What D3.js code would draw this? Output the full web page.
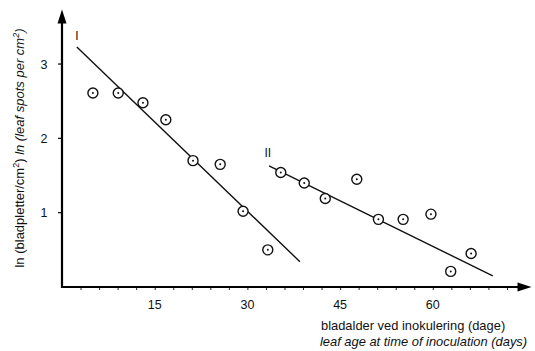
<!DOCTYPE html>
<html>
<head>
<meta charset="utf-8">
<script src="https://cdn.jsdelivr.net/npm/d3@7"></script>
<style>
  body { margin: 0; background: #fff; }
  svg { display: block; font-family: "Liberation Sans", Arial, sans-serif; }
</style>
</head>
<body>
<div id="chart"></div>
<script>
// leaf age at inoculation (days) and ln(leaf spots per cm2)
const ageI = [5.0, 9.1, 13.1, 16.8, 21.2, 25.6, 29.3, 33.3];
const lnI = [2.61, 2.61, 2.48, 2.25, 1.70, 1.65, 1.02, 0.50];
const ageII = [35.4, 39.2, 42.6, 47.7, 51.2, 55.2, 59.7, 62.9, 66.2];
const lnII = [1.54, 1.40, 1.19, 1.45, 0.91, 0.91, 0.98, 0.21, 0.45];

// fitted regression lines (end points)
const fitI = [[2.4, 3.23], [38.5, 0.34]];
const fitII = [[33.5, 1.63], [69.7, 0.15]];

const xTicks = [15, 30, 45, 60];
const yTicks = [1, 2, 3];

const width = 535, height = 351;

const svg = d3.select('#chart').append('svg')
    .attr('width', width)
    .attr('height', height);

const x = d3.scaleLinear().domain([0, 75]).range([62, 525.5]);
const y = d3.scaleLinear().domain([0, 3.7]).range([287, 12]);

// axes
const xAxis = d3.axisBottom(x).tickValues(d3.range(3, 75, 3)).tickSize(3).tickFormat('');
svg.append('g')
    .attr('transform', 'translate(0,' + y(0) + ')')
    .call(xAxis)
    .call(g => g.select('.domain').remove())
    .call(g => g.selectAll('line').attr('stroke', '#222').attr('stroke-width', 1));

svg.append('g')
    .selectAll('text')
    .data(xTicks)
    .join('text')
    .attr('x', d => x(d))
    .attr('y', y(0) + 22)
    .attr('text-anchor', 'middle')
    .attr('font-size', 12.5)
    .attr('fill', '#111')
    .text(d => d);

svg.append('line')
    .attr('x1', x(0)).attr('x2', x(75))
    .attr('y1', y(0)).attr('y2', y(0))
    .attr('stroke', '#000').attr('stroke-width', 2.2);
svg.append('path')
    .attr('d', `M${x(75) + 6},${y(0)} L${x(75) - 8},${y(0) - 4.5} L${x(75) - 8},${y(0) + 4.5} Z`)
    .attr('fill', '#000');

svg.append('line')
    .attr('x1', x(0)).attr('x2', x(0))
    .attr('y1', y(0) + 1).attr('y2', y(3.6))
    .attr('stroke', '#000').attr('stroke-width', 2.2);
svg.append('path')
    .attr('d', `M${x(0)},${y(3.6) - 10} L${x(0) - 4.5},${y(3.6) + 4} L${x(0) + 4.5},${y(3.6) + 4} Z`)
    .attr('fill', '#000');

svg.append('g')
    .selectAll('line')
    .data(yTicks)
    .join('line')
    .attr('x1', x(0) - 4).attr('x2', x(0))
    .attr('y1', d => y(d)).attr('y2', d => y(d))
    .attr('stroke', '#000').attr('stroke-width', 1.2);

svg.append('g')
    .selectAll('text')
    .data(yTicks)
    .join('text')
    .attr('x', x(0) - 18)
    .attr('y', d => y(d) + 4.5)
    .attr('text-anchor', 'middle')
    .attr('font-size', 12.5)
    .attr('fill', '#111')
    .text(d => d);

// axis titles
const yTitle = svg.append('text')
    .attr('transform', 'translate(24,148) rotate(-90)')
    .attr('text-anchor', 'middle')
    .attr('font-size', 13)
    .attr('fill', '#111');
yTitle.append('tspan').text('ln (bladpletter/cm');
yTitle.append('tspan').attr('font-size', 9).attr('dy', -5).text('2');
yTitle.append('tspan').attr('dy', 5).text(') ');
yTitle.append('tspan').attr('font-style', 'italic').text('ln (leaf spots per cm');
yTitle.append('tspan').attr('font-style', 'italic').attr('font-size', 9).attr('dy', -5).text('2');
yTitle.append('tspan').attr('font-style', 'italic').attr('dy', 5).text(')');

svg.append('text')
    .attr('x', 321).attr('y', 330)
    .attr('font-size', 12.9)
    .attr('fill', '#111')
    .text('bladalder ved inokulering (dage)');
svg.append('text')
    .attr('x', 320).attr('y', 346)
    .attr('font-size', 12.9)
    .attr('font-style', 'italic')
    .attr('fill', '#111')
    .text('leaf age at time of inoculation (days)');

// regression lines
const line = d3.line().x(d => x(d[0])).y(d => y(d[1]));
[fitI, fitII].forEach(f => {
    svg.append('path')
        .attr('d', line(f))
        .attr('fill', 'none')
        .attr('stroke', '#111')
        .attr('stroke-width', 1.4);
});

svg.append('text').attr('x', x(2.4)).attr('y', y(3.32)).attr('font-size', 12)
    .attr('fill', '#111').attr('text-anchor', 'middle').text('I');
svg.append('text').attr('x', x(33.3)).attr('y', y(1.75)).attr('font-size', 12)
    .attr('fill', '#111').attr('text-anchor', 'middle').text('II');

// points
const pts = ageI.map((a, i) => [a, lnI[i]]).concat(ageII.map((a, i) => [a, lnII[i]]));
const g = svg.append('g');
g.selectAll('circle.ring')
    .data(pts)
    .join('circle')
    .attr('class', 'ring')
    .attr('cx', d => x(d[0]))
    .attr('cy', d => y(d[1]))
    .attr('r', 5)
    .attr('fill', '#fff')
    .attr('stroke', '#111')
    .attr('stroke-width', 1.4);
g.selectAll('circle.dot')
    .data(pts)
    .join('circle')
    .attr('class', 'dot')
    .attr('cx', d => x(d[0]))
    .attr('cy', d => y(d[1]))
    .attr('r', 1)
    .attr('fill', '#111');
</script>
</body>
</html>
